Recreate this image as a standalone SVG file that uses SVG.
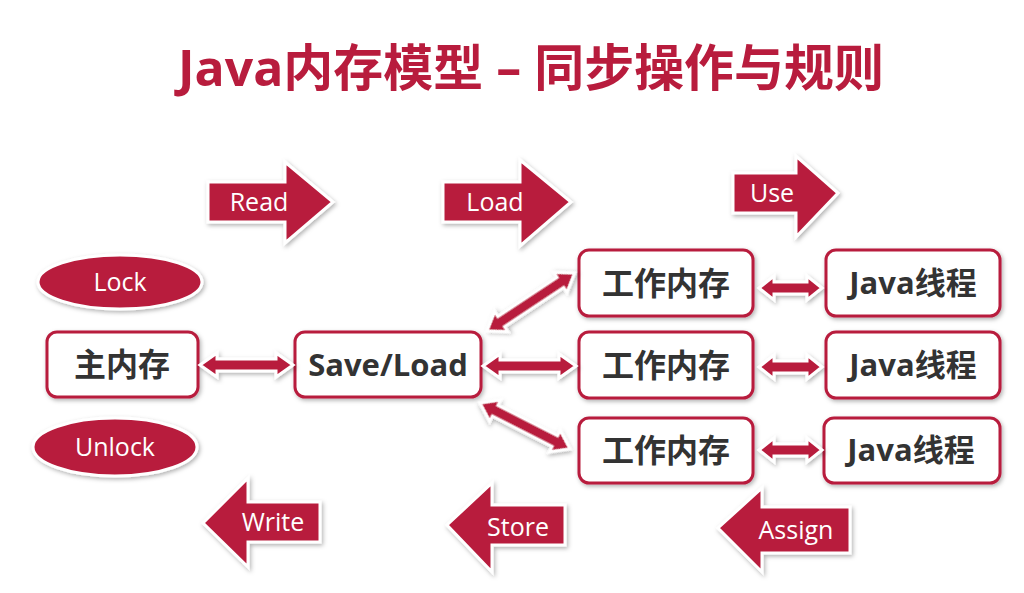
<svg xmlns="http://www.w3.org/2000/svg" width="1024" height="593" viewBox="0 0 1024 593">
<defs>
<filter id="sh" x="-20%" y="-30%" width="140%" height="160%">
<feDropShadow dx="1.5" dy="2" stdDeviation="2" flood-color="#000" flood-opacity="0.3"/>
</filter>
<style>
.red{fill:#b81c3d;stroke:#fff;stroke-width:3;filter:url(#sh)}
.box{fill:#fff;stroke:#b81c3d;stroke-width:3;filter:url(#sh)}
.lbl{font-family:"Open Sans","Noto Sans CJK SC",sans-serif;fill:#fff;font-size:25px;text-anchor:middle}
.bt{font-family:"Open Sans","Noto Sans CJK SC",sans-serif;fill:#333;font-size:31px;font-weight:bold;text-anchor:middle}
.ct{font-family:"Noto Sans CJK SC",sans-serif;fill:#333;font-size:32px;font-weight:bold;text-anchor:middle}
.title{font-family:"Open Sans","Noto Sans CJK SC",sans-serif;fill:#b81c3d;font-size:50px;font-weight:bold}
</style>
</defs>
<rect width="1024" height="593" fill="#fff"/>
<text class="title" x="178" y="86" textLength="706" lengthAdjust="spacingAndGlyphs">Java内存模型 – 同步操作与规则</text>

<g id="read"><path class="red" d="M208,182 H285 V162 L333,202 L285,243 V222 H208 Z"/><text class="lbl" x="259" y="211">Read</text></g>
<g id="load"><path class="red" d="M443,182 H520 V160 L571,202 L520,246 V222 H443 Z"/><text class="lbl" x="495" y="211">Load</text></g>
<g id="use"><path class="red" d="M733,173 H796 V156 L838,193 L796,237 V213 H733 Z"/><text class="lbl" x="772" y="202">Use</text></g>

<g id="lock"><ellipse class="red" cx="120" cy="282" rx="82" ry="27"/><text class="lbl" x="120" y="291">Lock</text></g>
<g id="unlock"><ellipse class="red" cx="115" cy="447" rx="82" ry="29"/><text class="lbl" x="115" y="456">Unlock</text></g>

<g id="main"><rect class="box" x="47" y="332" width="151" height="65" rx="10"/><text class="ct" x="122" y="376">主内存</text></g>
<g id="saveload"><rect class="box" x="295" y="332" width="186" height="65" rx="10"/><text class="bt" x="388" y="376">Save/Load</text></g>

<g id="wm1"><rect class="box" x="579" y="250" width="174" height="66" rx="10"/><text class="ct" x="666" y="295">工作内存</text></g>
<g id="wm2"><rect class="box" x="579" y="332" width="174" height="66" rx="10"/><text class="ct" x="666" y="377">工作内存</text></g>
<g id="wm3"><rect class="box" x="579" y="418" width="174" height="65" rx="10"/><text class="ct" x="666" y="462">工作内存</text></g>

<g id="jt1"><rect class="box" x="826" y="250" width="174" height="66" rx="10"/><text class="bt" x="913" y="294">Java<tspan font-family="Noto Sans CJK SC">线程</tspan></text></g>
<g id="jt2"><rect class="box" x="826" y="332" width="174" height="66" rx="10"/><text class="bt" x="913" y="376">Java<tspan font-family="Noto Sans CJK SC">线程</tspan></text></g>
<g id="jt3"><rect class="box" x="824" y="418" width="176" height="65" rx="10"/><text class="bt" x="911" y="461">Java<tspan font-family="Noto Sans CJK SC">线程</tspan></text></g>

<g id="write"><path class="red" d="M320,502 H248 V478 L203,523 L248,567 V542 H320 Z"/><text class="lbl" x="273" y="531">Write</text></g>
<g id="store"><path class="red" d="M565,505 H492 V483 L447,525 L492,572 V545 H565 Z"/><text class="lbl" x="518" y="536">Store</text></g>
<g id="assign"><path class="red" d="M850,507 H762 V488 L718,528 L762,572 V553 H850 Z"/><text class="lbl" x="796" y="539">Assign</text></g>

<g id="connectors">
<path class="red" transform="translate(200,365)" d="M0,0 L17,-12 L17,-6 L76,-6 L76,-12 L93,0 L76,12 L76,6 L17,6 L17,12 Z"/>
<path class="red" transform="translate(483,366)" d="M0,0 L17,-12 L17,-6 L76,-6 L76,-12 L93,0 L76,12 L76,6 L17,6 L17,12 Z"/>
<path class="red" transform="translate(487,331) rotate(-33.5)" d="M0,0 L17,-12 L17,-6 L88,-6 L88,-12 L105,0 L88,12 L88,6 L17,6 L17,12 Z"/>
<path class="red" transform="translate(480,403) rotate(27)" d="M0,0 L17,-12 L17,-6 L84,-6 L84,-12 L101,0 L84,12 L84,6 L17,6 L17,12 Z"/>
<path class="red" transform="translate(759,288)" d="M0,0 L15,-12 L15,-6 L48,-6 L48,-12 L63,0 L48,12 L48,6 L15,6 L15,12 Z"/>
<path class="red" transform="translate(759,367)" d="M0,0 L15,-12 L15,-6 L48,-6 L48,-12 L63,0 L48,12 L48,6 L15,6 L15,12 Z"/>
<path class="red" transform="translate(759,450)" d="M0,0 L15,-12 L15,-6 L48,-6 L48,-12 L63,0 L48,12 L48,6 L15,6 L15,12 Z"/>
</g>
</svg>
